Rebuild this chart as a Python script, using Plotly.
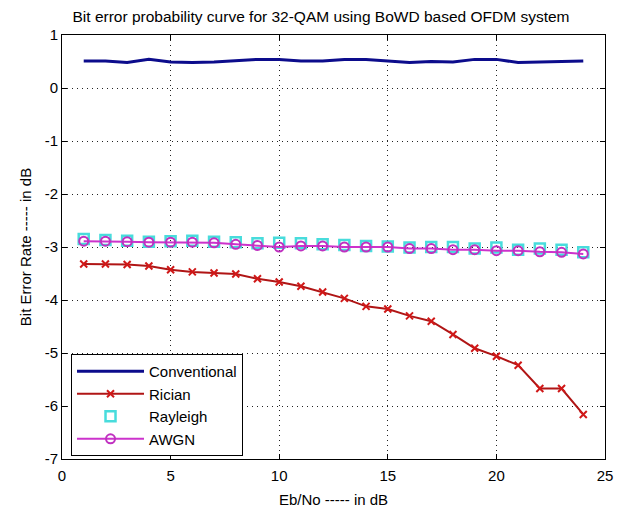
import plotly.graph_objects as go

ebno = list(range(1, 25))
conventional = [0.51, 0.51, 0.48, 0.54, 0.49, 0.48, 0.49, 0.51, 0.54, 0.54, 0.51, 0.51,
                0.54, 0.54, 0.51, 0.48, 0.50, 0.49, 0.54, 0.54, 0.48, 0.49, 0.49, 0.51]
rician = [-3.32, -3.32, -3.33, -3.36, -3.43, -3.47, -3.49, -3.51, -3.60, -3.66, -3.74, -3.85,
          -3.97, -4.12, -4.17, -4.30, -4.40, -4.65, -4.91, -5.06, -5.23, -5.67, -5.67, -6.16]
rayleigh = [-2.85, -2.87, -2.88, -2.90, -2.89, -2.88, -2.90, -2.91, -2.93, -2.92, -2.93, -2.95,
            -2.96, -2.98, -2.99, -3.01, -3.00, -3.00, -3.03, -3.01, -3.05, -3.03, -3.05, -3.10]
awgn = [-2.89, -2.89, -2.90, -2.91, -2.91, -2.91, -2.92, -2.95, -2.97, -3.00, -2.98, -2.98,
        -3.00, -3.00, -3.00, -3.03, -3.03, -3.05, -3.05, -3.07, -3.07, -3.09, -3.10, -3.13]

x_ticks = [0, 5, 10, 15, 20, 25]
x_tick_labels = ["0", "5", "10", "15", "20", "25"]
y_ticks = [1, 0, -1, -2, -3, -4, -5, -6, -7]
y_tick_labels = ["1", "0", "-1", "-2", "-3", "-4", "-5", "-6", "-7"]

FONT = "Liberation Sans, Arial, sans-serif"

fig = go.Figure()
fig.add_trace(go.Scatter(x=ebno, y=conventional, name="Conventional", mode="lines",
                         line=dict(color="#0c0c8c", width=3)))
fig.add_trace(go.Scatter(x=ebno, y=rician, name="Rician", mode="lines+markers",
                         line=dict(color="#b01515", width=2),
                         marker=dict(symbol="x-thin", size=7,
                                     line=dict(color="#d01818", width=2))))
fig.add_trace(go.Scatter(x=ebno, y=rayleigh, name="Rayleigh", mode="markers",
                         marker=dict(symbol="square-open", size=10, color="#48dcdc",
                                     line=dict(color="#48dcdc", width=2.5))))
fig.add_trace(go.Scatter(x=ebno, y=awgn, name="AWGN", mode="lines+markers",
                         line=dict(color="#cc33cc", width=2),
                         marker=dict(symbol="circle-open", size=9, color="#c030c0",
                                     line=dict(color="#c030c0", width=2))))

axis_common = dict(
    showline=True, linecolor="black", linewidth=1, mirror="ticks",
    ticks="inside", ticklen=5, tickcolor="black",
    showgrid=True, gridcolor="#222222", gridwidth=1, griddash="1px,4px",
    zeroline=False, automargin=False,
    tickfont=dict(family=FONT, size=15, color="black"),
)

fig.update_layout(
    width=617, height=500,
    margin=dict(l=54, r=20, t=27, b=49),
    paper_bgcolor="white", plot_bgcolor="white",
    font=dict(family=FONT, size=15, color="black"),
    title=dict(text="Bit error probability curve for 32-QAM using BoWD based OFDM system",
               x=313 / 617, xref="container", xanchor="center",
               y=1 - 3 / 500, yanchor="top", pad=dict(t=0, b=0),
               font=dict(family=FONT, size=15.5, color="black")),
    xaxis=dict(range=[0, 25], tickvals=x_ticks, ticktext=x_tick_labels, **axis_common,
               ticklabelstandoff=3,
               title=dict(text="Eb/No ----- in dB", standoff=14,
                          font=dict(family=FONT, size=15))),
    yaxis=dict(range=[-7, 1], tickvals=y_ticks, ticktext=y_tick_labels, **axis_common,
               title=dict(text="Bit Error Rate ----- in dB", standoff=9,
                          font=dict(family=FONT, size=15))),
    legend=dict(x=0.0166, y=0.007, xanchor="left", yanchor="bottom",
                bgcolor="white", bordercolor="black", borderwidth=1,
                itemwidth=67,
                font=dict(family=FONT, size=15, color="black")),
    showlegend=True,
)

fig.write_html("out.html")
